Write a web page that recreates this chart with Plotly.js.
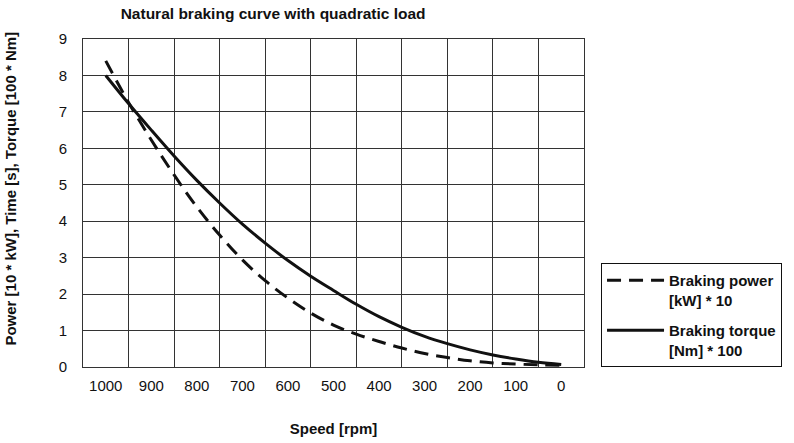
<!DOCTYPE html>
<html>
<head>
<meta charset="utf-8">
<script src="https://cdn.plot.ly/plotly-3.0.1.min.js"></script>
<style>html,body{margin:0;padding:0;background:#fff}#chart{width:794px;height:443px}</style>
</head>
<body>
<div id="chart"></div>
<script>
// Speed [rpm]
const speed = [1000, 950, 900, 850, 800, 750, 700, 650, 600, 550, 500, 450, 400, 350, 300, 250, 200, 150, 100, 50, 0];
// Braking power [kW] * 10
const power = [8.4, 7.26, 6.23, 5.27, 4.39, 3.62, 2.94, 2.37, 1.89, 1.48, 1.15, 0.9, 0.7, 0.52, 0.37, 0.26, 0.17, 0.11, 0.08, 0.06, 0.05];
// Braking torque [Nm] * 100
const torque = [8.0, 7.23, 6.5, 5.79, 5.12, 4.5, 3.92, 3.4, 2.92, 2.49, 2.1, 1.72, 1.38, 1.09, 0.84, 0.64, 0.47, 0.33, 0.22, 0.13, 0.07];
const xTicks = [1000, 900, 800, 700, 600, 500, 400, 300, 200, 100, 0];
const yTicks = [0, 1, 2, 3, 4, 5, 6, 7, 8, 9];

const FONT = 'Liberation Sans, Arial, sans-serif';
const INK = '#111';

const traces = [
  {
    x: speed, y: power, type: 'scatter', mode: 'lines',
    name: '<b>Braking power<br>[kW] * 10</b>',
    line: {color: INK, width: 3, dash: '14px,8px', shape: 'spline'},
    legendgroup: 'a'
  },
  {
    x: speed, y: torque, type: 'scatter', mode: 'lines',
    name: '<b>Braking torque<br>[Nm] * 100</b>',
    line: {color: INK, width: 3, shape: 'spline'},
    legendgroup: 'b'
  }
];

const layout = {
  width: 794, height: 443,
  margin: {l: 83, r: 208, t: 39, b: 76},
  paper_bgcolor: '#fff', plot_bgcolor: '#fff',
  font: {family: FONT, size: 15, color: INK},
  title: {
    text: '<b>Natural braking curve with quadratic load</b>',
    font: {family: FONT, size: 15.5, color: INK},
    x: 0.344, xanchor: 'center', y: 0.97, yanchor: 'middle'
  },
  xaxis: {
    range: [1050, -50],
    tickvals: xTicks, ticktext: xTicks.map(String),
    showgrid: false, zeroline: false,
    ticks: '', tickfont: {family: FONT, size: 15, color: INK},
    ticklabelstandoff: 5,
    minor: {tick0: 50, dtick: 100, showgrid: true, gridcolor: '#333', gridwidth: 1, ticks: ''},
    showline: true, linecolor: '#333', linewidth: 1, mirror: true,
    title: {text: '<b>Speed [rpm]</b>', font: {family: FONT, size: 15, color: INK}, standoff: 30}
  },
  yaxis: {
    range: [0, 9],
    tickvals: yTicks,
    showgrid: true, gridcolor: '#333', gridwidth: 1, zeroline: false,
    ticks: '', tickfont: {family: FONT, size: 15, color: INK},
    ticklabelstandoff: 12,
    showline: true, linecolor: '#333', linewidth: 1, mirror: true
  },
  annotations: [{
    text: '<b>Power [10 * kW], Time [s], Torque [100 * Nm]</b>',
    textangle: -90, xref: 'paper', yref: 'paper',
    x: -0.145, y: 0.545, xanchor: 'center', yanchor: 'middle', showarrow: false,
    font: {family: FONT, size: 15, color: INK}
  }],
  showlegend: true,
  legend: {
    x: 1.034, xanchor: 'left', y: 0, yanchor: 'bottom',
    bordercolor: INK, borderwidth: 1, bgcolor: '#fff',
    font: {family: FONT, size: 15, color: INK},
    valign: 'top', tracegroupgap: 8, itemwidth: 57
  }
};

Plotly.newPlot('chart', traces, layout, {displayModeBar: false, staticPlot: true});
</script>
</body>
</html>
